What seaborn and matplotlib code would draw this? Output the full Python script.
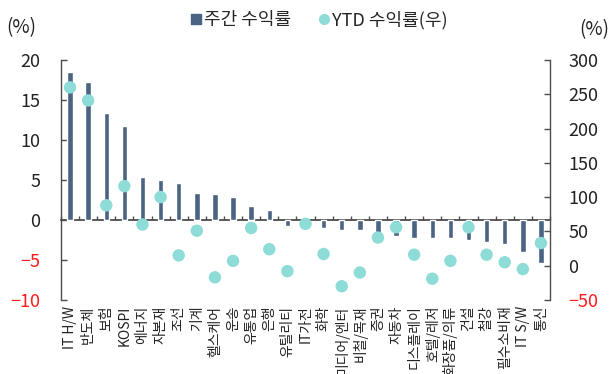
import numpy as np
import pandas as pd
import matplotlib
matplotlib.use("Agg")
import matplotlib.pyplot as plt
from matplotlib.lines import Line2D
import seaborn as sns

categories = ["IT H/W", "반도체", "보험", "KOSPI", "에너지", "자본재", "조선", "기계", "헬스케어",
              "운송", "유통업", "은행", "유틸리티", "IT가전", "화학", "미디어/엔터", "비철/목재",
              "증권", "자동차", "디스플레이", "호텔/레저", "화장품/의류", "건설", "철강",
              "필수소비재", "IT S/W", "통신"]
weekly = [18.5, 17.3, 13.4, 11.7, 5.4, 5.0, 4.6, 3.4, 3.3,
          2.9, 1.8, 1.2, -0.7, -0.3, -1.0, -1.2, -1.25,
          -1.8, -2.0, -2.3, -2.3, -2.3, -2.5, -2.7,
          -3.0, -4.0, -5.4]
ytd = [260, 241, 88, 116, 60, 100, 15, 51, -17,
       7, 55, 24, -8, 61, 17, -30, -10,
       41, 56, 16, -19, 7, 56, 16,
       5, -5, 33]
left_ticks = [-10, -5, 0, 5, 10, 15, 20]
right_ticks = [-50, 0, 50, 100, 150, 200, 250, 300]

bar_color = "#4b6483"
dot_color = "#8edcd8"
axis_color = "#4d4d4d"
font = ["Noto Sans CJK KR", "DejaVu Sans"]

sns.set_theme(style="white")
plt.rcParams["font.family"] = font

df = pd.DataFrame({"cat": categories, "weekly": weekly, "ytd": ytd, "pos": np.arange(len(categories))})

fig = plt.figure(figsize=(6.11, 3.74), dpi=100)
ax = fig.add_axes([0.0998, 0.198, 0.8004, 0.6416])
sns.barplot(data=df, x="cat", y="weekly", color=bar_color, width=0.3, saturation=1, ax=ax)
ax.set_xlim(-0.5, len(categories) - 0.5)
ax.set_ylim(-10, 20)
ax.set_yticks(left_ticks)
ax.set_xlabel("")
ax.set_ylabel("")
for s in ["top", "right", "bottom"]:
    ax.spines[s].set_visible(False)
ax.spines["left"].set_color(axis_color)
ax.spines["left"].set_linewidth(1.0)
ax.tick_params(axis="y", direction="in", length=4, width=1, color=axis_color, pad=15, labelsize=13,
               left=True)
ax.tick_params(axis="x", length=0, pad=4, labelsize=10, rotation=90, labelcolor="#222222")
for lab in ax.get_xticklabels():
    lab.set_va("top")
    lab.set_ha("center")
for t, v in zip(ax.get_yticklabels(), left_ticks):
    t.set_color("#ff1a1a" if v < 0 else "#222222")

# zero line with category-boundary ticks
sec = ax.secondary_xaxis(0, transform=ax.transData)
sec.spines["bottom"].set_color(axis_color)
sec.spines["bottom"].set_linewidth(1.3)
sec.set_xticks(np.arange(len(categories) + 1) - 0.5)
sec.set_xticklabels([])
sec.tick_params(axis="x", direction="in", length=3, width=1, color=axis_color)

ax2 = ax.twinx()
sns.scatterplot(data=df, x="pos", y="ytd", color=dot_color, s=80, edgecolor="none", ax=ax2, zorder=5)
ax2.set_ylim(-50, 300)
ax2.set_yticks(right_ticks)
ax2.set_ylabel("")
ax2.set_xlabel("")
for s in ["top", "left", "bottom"]:
    ax2.spines[s].set_visible(False)
ax2.spines["right"].set_color(axis_color)
ax2.spines["right"].set_linewidth(1.0)
ax2.tick_params(axis="y", direction="in", length=4, width=1, color=axis_color, pad=13, labelsize=13,
                right=True)
for t, v in zip(ax2.get_yticklabels(), right_ticks):
    t.set_color("#ff1a1a" if v < 0 else "#222222")
ax2.grid(False)
ax.grid(False)

fig.text(0.011, 0.925, "(%)", fontsize=13.5, color="#222222", va="center", ha="left")
fig.text(0.997, 0.922, "(%)", fontsize=13.5, color="#222222", va="center", ha="right")

handles = [Line2D([], [], marker="s", linestyle="none", color=bar_color, markersize=7),
           Line2D([], [], marker="o", linestyle="none", color=dot_color, markersize=7)]
fig.legend(handles, ["주간 수익률", "YTD 수익률(우)"], loc="center", bbox_to_anchor=(0.521, 0.947),
           ncol=2, frameon=False, fontsize=13, handletextpad=0.05, columnspacing=1.4,
           handlelength=0.8, borderaxespad=0)

fig.savefig("out.png", dpi=100)
